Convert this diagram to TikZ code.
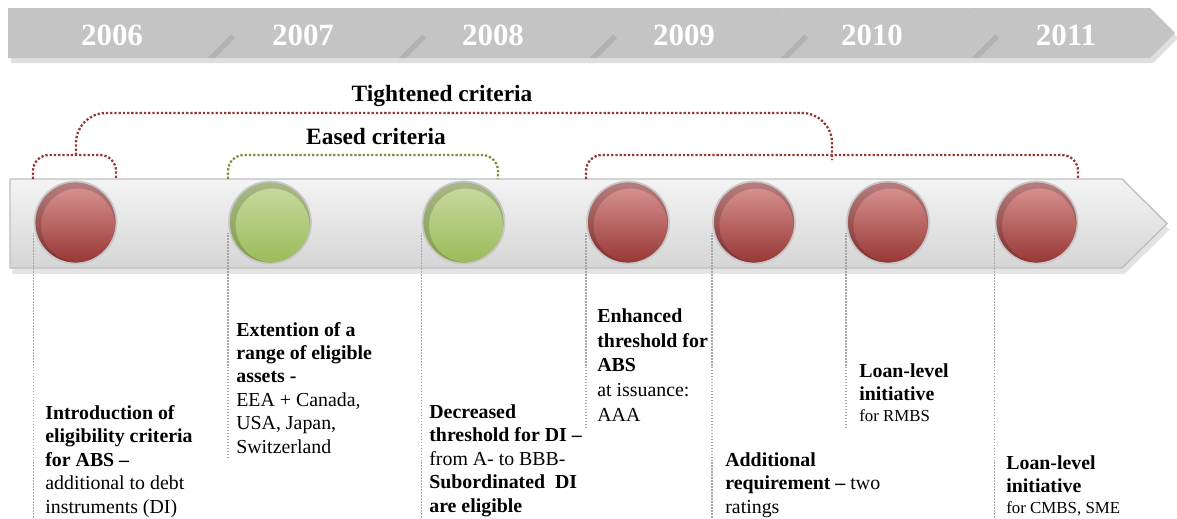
\documentclass[tikz,border=0pt]{standalone}
\usepackage{fontspec}
\setmainfont{Liberation Serif}
\usetikzlibrary{arrows.meta,positioning,calc,shadows}

\definecolor{bannergray}{HTML}{C4C4C4}
\definecolor{bartop}{HTML}{F4F4F4}
\definecolor{barbot}{HTML}{D5D5D5}
\definecolor{redtop}{HTML}{DB9896}
\definecolor{redbot}{HTML}{963634}
\definecolor{greentop}{HTML}{C8DBA2}
\definecolor{greenbot}{HTML}{9BBB59}
\definecolor{tightred}{HTML}{953735}
\definecolor{easedgreen}{HTML}{77933C}

\begin{document}
\begin{tikzpicture}[x=0.02cm,y=-0.02cm]
      \tikzstyle{seg}=[fill=bannergray,drop shadow={shadow xshift=0.06cm,shadow yshift=-0.1cm,opacity=0.25}]
      \tikzstyle{year}=[text=white,font=\fontsize{17.6}{20}\selectfont\bfseries]
      \tikzstyle{dot}=[circle,minimum size=1.64cm,inner sep=0pt,draw=black!22,line width=1pt,
        path picture={\draw[black,opacity=0.16,line width=0.16cm] ([xshift=0.05cm,yshift=-0.06cm]path picture bounding box.center) circle (0.82cm);}]
      \tikzstyle{reddot}=[dot,top color=redtop,bottom color=redbot]
      \tikzstyle{greendot}=[dot,top color=greentop,bottom color=greenbot]
      \tikzstyle{guide}=[draw=black!35,line width=0.9pt,dash pattern=on 0.9pt off 0.8pt]
      \tikzstyle{bracket}=[line width=1.3pt,dash pattern=on 1.3pt off 1.1pt,rounded corners=0.32cm]
      \tikzstyle{txt}=[anchor=base west,align=left,inner sep=0pt,font=\fontsize{11.3}{13.3}\selectfont]
      \tikzstyle{head}=[anchor=base,font=\fontsize{13.3}{15}\selectfont\bfseries]

      \useasboundingbox (0,0) rectangle (1177,518);

      % years, drawn right to left so every tip lies over the next piece
      \foreach \l/\n/\d/\yr/\c in {971/1150/25/2011/1066,780/971/25/2010/872,589/780/25/2009/684,
                                   398/589/25/2008/493,207/398/25/2007/303,8/207/0/2006/112} {
        \fill[seg] (\l,8) -- (\n,8) -- (\n+25,33) -- (\n,58) -- (\l,58) -- (\l+\d,33) -- cycle;
        \node[year,anchor=base] (y\yr) at (\c,45) {\yr};
      }

      % timeline bar
      \path[draw=black!25,line width=0.8pt,top color=bartop,bottom color=barbot,
            drop shadow={shadow xshift=0.05cm,shadow yshift=-0.12cm,opacity=0.22}]
        (10,179) -- (1122,179) -- (1167,223.5) -- (1122,268) -- (10,268) -- cycle;

      \foreach \n/\x/\s in {1/75.5/reddot,2/270/greendot,3/463.5/greendot,4/628/reddot,
                            5/754/reddot,6/888/reddot,7/1036.5/reddot}
        \node[\s] (e\n) at (\x,222.5) {};

      % criteria brackets
      \draw[bracket,tightred] (33,179) -- (33,155) -- (116,155) -- (116,179);
      \draw[bracket,easedgreen] (228,179) -- (228,155) -- (498,155) -- (498,179);
      \draw[bracket,tightred] (586,179) -- (586,155) -- (1078,155) -- (1078,179);
      \draw[bracket,tightred,rounded corners=0.6cm] (76,155) -- (76,113) -- (832,113) -- (832,160);
      \node[head] (tight) at (442,101) {Tightened criteria};
      \node[head] (eased) at (376,144) {Eased criteria};

      % event texts (base = last line)
      \node[txt] (t1) at (45,513) {\textbf{Introduction of}\\ \textbf{eligibility criteria}\\ \textbf{for ABS –}\\ additional to debt\\ instruments (DI)};
      \node[txt] (t2) at (236,453) {\textbf{Extention of a}\\ \textbf{range of eligible}\\ \textbf{assets -}\\ EEA + Canada,\\ USA, Japan,\\ Switzerland};
      \node[txt] (t3) at (429,512) {\textbf{Decreased}\\ \textbf{threshold for DI –}\\ from A- to BBB-\\ \textbf{Subordinated\ \ DI}\\ \textbf{are eligible}};
      \node[txt,font=\fontsize{11.3}{14}\selectfont] (t4) at (597,421) {\textbf{Enhanced}\\ \textbf{threshold for}\\ \textbf{ABS}\\ at issuance:\\ AAA};
      \node[txt] (t5) at (725,513) {\textbf{Additional}\\ \textbf{requirement –} two\\ ratings};
      \node[txt] (t6) at (859,421) {\textbf{Loan-level}\\ \textbf{initiative}\\[-1.7pt] {\fontsize{9.6}{11}\selectfont for RMBS}};
      \node[txt] (t7) at (1006,513) {\textbf{Loan-level}\\ \textbf{initiative}\\[-1.7pt] {\fontsize{9.6}{11}\selectfont for CMBS, SME}};

      % dotted guides from the dots down along the texts
      \foreach \n/\b in {1/520,2/458,3/520,4/427,5/520,6/427,7/520} {
        \coordinate (g\n) at (e\n.west |- 0,\b);
        \draw[guide] ([yshift=-0.2cm]e\n.west) -- (g\n);
      }
\end{tikzpicture}
\end{document}
